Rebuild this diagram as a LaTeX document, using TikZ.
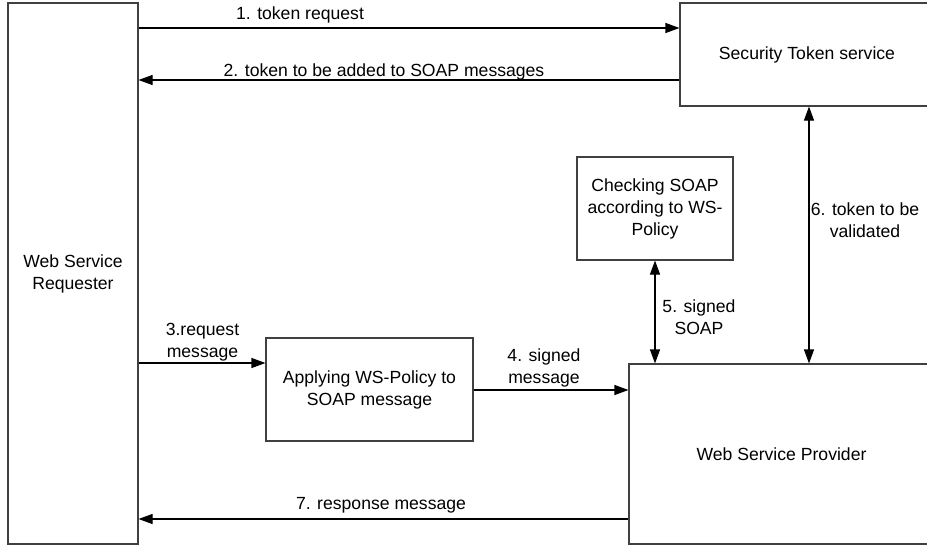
\documentclass[tikz,border=0pt]{standalone}
\usepackage{fontspec}
\setmainfont{Liberation Sans}
\usetikzlibrary{arrows.meta}
\begin{document}
\begin{tikzpicture}[x=1pt,y=-1pt,
  font=\fontsize{17.6}{22}\selectfont,
  box/.style={draw=black!75,line width=1.1pt,fill=white,inner sep=0pt,align=center},
  tip/.style={Triangle[length=14pt,width=10pt]},
  arr/.style={draw=black,line width=1.1pt,-{Triangle[length=14pt,width=10pt]}},
  darr/.style={draw=black,line width=1.1pt,{Triangle[length=14pt,width=10pt]}-{Triangle[length=14pt,width=10pt]}},
  lbl/.style={inner sep=0pt,align=center}]
\useasboundingbox (0,0) rectangle (927,546);

% main blocks
\node[box,minimum width=130pt,minimum height=541pt] (req) at (73,273.5) {Web Service\\Requester};
\node[box,minimum width=254pt,minimum height=103pt] (sts) at (807,54.5) {Security Token service};
\node[box,minimum width=156pt,minimum height=103pt] (chk) at (655,208.5) {Checking SOAP\\according to WS-\\Policy};
\node[box,minimum width=207pt,minimum height=103pt] (app) at (369.5,389.5) {Applying WS-Policy to\\SOAP message};
\node[box,minimum width=305pt,minimum height=180pt] (wsp) at (781.5,454) {Web Service Provider};

% message flow
\draw[arr] (req.east |- 0,28) -- (sts.west |- 0,28);
\draw[arr] (sts.west |- 0,80) -- (req.east |- 0,80);
\draw[arr] (req.east |- 0,363) -- (app.west |- 0,363);
\draw[arr] (app.east |- 0,390) -- (wsp.west |- 0,390);
\draw[darr] (chk.south -| 655,0) -- (wsp.north -| 655,0);
\draw[darr] (sts.south -| 809,0) -- (wsp.north -| 809,0);
\draw[arr] (wsp.west |- 0,519) -- (req.east |- 0,519);

% step labels
\node[lbl] (l1) at (300,15) {1. token request};
\node[lbl] (l2) at (384,72) {2. token to be added to SOAP messages};
\node[lbl] (l3) at (202.5,342) {3.request\\message};
\node[lbl] (l4) at (544,368) {4. signed\\message};
\node[lbl] (l5) at (699,317) {5. signed\\SOAP};
\node[lbl] (l6) at (865,220) {6. token to be\\validated};
\node[lbl] (l7) at (381,505) {7. response message};
\end{tikzpicture}
\end{document}
